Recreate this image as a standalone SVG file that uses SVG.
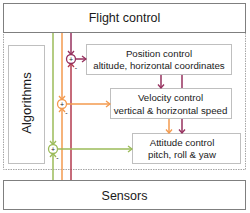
<svg xmlns="http://www.w3.org/2000/svg" width="250" height="213" viewBox="0 0 250 213">
<style>
.t{font-family:"Liberation Sans",Arial,sans-serif;fill:#1a1a1a;text-anchor:middle}
.big{font-size:12.5px}
.sm{font-size:9.7px}
.box{fill:#fff;stroke:#bfbfbf;stroke-width:1}
.main{fill:#fff;stroke:#7f7f7f;stroke-width:1}
.pu{stroke:#96305e;stroke-width:1.5;fill:none}
.rd{stroke:#b33a4e;stroke-width:1.5;fill:none}
.or{stroke:#f39a4e;stroke-width:1.5;fill:none}
.gr{stroke:#9bbb59;stroke-width:1.5;fill:none}
.ah{fill:none;stroke-width:1.3}
.sg{font-family:"Liberation Sans",Arial,sans-serif;font-size:7px;fill:#1a1a1a;text-anchor:middle}
</style>
<rect width="250" height="213" fill="#fff"/>
<g id="container">
<rect x="3.5" y="32.5" width="242" height="137" fill="#fff" stroke="#a6a6a6" stroke-width="1" stroke-dasharray="1.5,1"/>
</g>
<g id="flight-control">
<rect class="main" x="3.5" y="3.5" width="242" height="29"/>
<text class="t big" x="124.5" y="22">Flight control</text>
</g>
<g id="sensors">
<rect class="main" x="3.5" y="180.5" width="242" height="29"/>
<text class="t big" x="124.5" y="200">Sensors</text>
</g>
<g id="algorithms">
<rect class="box" x="8.5" y="45.5" width="36" height="118"/>
<text class="t" font-size="13" transform="translate(31,103) rotate(-90)">Algorithms</text>
</g>
<g id="position-control">
<rect class="box" x="86.5" y="44.5" width="145" height="30"/>
<text class="t sm" x="159" y="56.5">Position control</text>
<text class="t sm" x="159" y="69">altitude, horizontal coordinates</text>
</g>
<g id="velocity-control">
<rect class="box" x="110.5" y="88.5" width="121" height="30"/>
<text class="t sm" x="170.5" y="101">Velocity control</text>
<text class="t sm" x="170.5" y="113.5">vertical &amp; horizontal speed</text>
</g>
<g id="attitude-control">
<rect class="box" x="132.5" y="133.5" width="108" height="30"/>
<text class="t sm" x="182" y="145.5">Attitude control</text>
<text class="t sm" x="182" y="158">pitch, roll &amp; yaw</text>
</g>
<g id="connectors">
<!-- purple loop -->
<line class="pu" x1="71" y1="33" x2="71" y2="54.5"/>
<path class="pu ah" d="M68,51 L71,54.5 L74,51"/>
<line class="rd" x1="71" y1="180" x2="71" y2="63.5"/>
<path class="rd ah" d="M68,67 L71,63.5 L74,67"/>
<circle cx="71" cy="59" r="4.5" fill="#fff" stroke="#96305e" stroke-width="1.3"/>
<text class="sg" x="71" y="61.5">+</text>
<text class="sg" x="76" y="70">-</text>
<line class="pu" x1="75.5" y1="59" x2="86" y2="59"/>
<path class="pu ah" d="M82,56 L86,59 L82,62"/>
<!-- orange loop -->
<line class="or" x1="62" y1="33" x2="62" y2="99.5"/>
<path class="or ah" d="M59,96 L62,99.5 L65,96"/>
<line class="or" x1="62" y1="180" x2="62" y2="108.5"/>
<path class="or ah" d="M59,112 L62,108.5 L65,112"/>
<circle cx="62" cy="104" r="4.5" fill="#fff" stroke="#f39a4e" stroke-width="1.3"/>
<text class="sg" x="62" y="106.5">+</text>
<text class="sg" x="66.5" y="115">-</text>
<line class="or" x1="66.5" y1="104" x2="110" y2="104"/>
<path class="or ah" d="M106,101 L110,104 L106,107"/>
<!-- green loop -->
<line class="gr" x1="53" y1="33" x2="53" y2="144.5"/>
<path class="gr ah" d="M50,141 L53,144.5 L56,141"/>
<line class="gr" x1="53" y1="180" x2="53" y2="153.5"/>
<path class="gr ah" d="M50,157 L53,153.5 L56,157"/>
<circle cx="53" cy="149" r="4.5" fill="#fff" stroke="#9bbb59" stroke-width="1.3"/>
<text class="sg" x="53" y="151.5">+</text>
<text class="sg" x="57.5" y="160">-</text>
<line class="gr" x1="57.5" y1="149" x2="132" y2="149"/>
<path class="gr ah" d="M128,146 L132,149 L128,152"/>
<!-- between boxes -->
<line class="pu" x1="161" y1="75" x2="161" y2="88"/>
<path class="pu ah" d="M158,84.5 L161,88 L164,84.5"/>
<line class="pu" x1="182" y1="75" x2="182" y2="88"/>
<line class="or" x1="169" y1="119" x2="169" y2="133"/>
<path class="or ah" d="M166,129.5 L169,133 L172,129.5"/>
<line class="pu" x1="182" y1="119" x2="182" y2="133"/>
<path class="pu ah" d="M179,129.5 L182,133 L185,129.5"/>
</g>
</svg>
